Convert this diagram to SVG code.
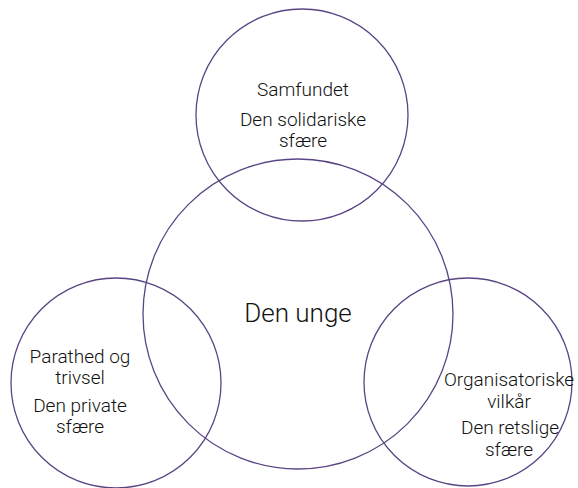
<svg xmlns="http://www.w3.org/2000/svg" width="578" height="488" viewBox="0 0 578 488">
<style>
.c{fill:none;stroke:#5a4584;stroke-width:1.3}
.t{font-family:Roboto,"Liberation Sans",sans-serif;font-weight:300;font-size:19px;fill:#111;text-anchor:middle}
.b{font-size:26px}
</style>
<rect width="578" height="488" fill="#fff"/>
<g id="center">
<circle class="c" cx="298" cy="314" r="155"/>
<text class="t b" x="298" y="322">Den unge</text>
</g>
<g id="top">
<circle class="c" cx="302" cy="115" r="106"/>
<text class="t" x="303" y="96">Samfundet</text>
<text class="t" x="303" y="126">Den solidariske</text>
<text class="t" x="303" y="147">sfære</text>
</g>
<g id="left">
<circle class="c" cx="116" cy="383" r="105"/>
<text class="t" x="80" y="363">Parathed og</text>
<text class="t" x="80" y="384">trivsel</text>
<text class="t" x="80" y="412">Den private</text>
<text class="t" x="80" y="433">sfære</text>
</g>
<g id="right">
<circle class="c" cx="468" cy="382" r="104"/>
<text class="t" x="509" y="386">Organisatoriske</text>
<text class="t" x="509" y="408">vilkår</text>
<text class="t" x="510" y="434">Den retslige</text>
<text class="t" x="509" y="456">sfære</text>
</g>
<g id="connectors"/>
</svg>
